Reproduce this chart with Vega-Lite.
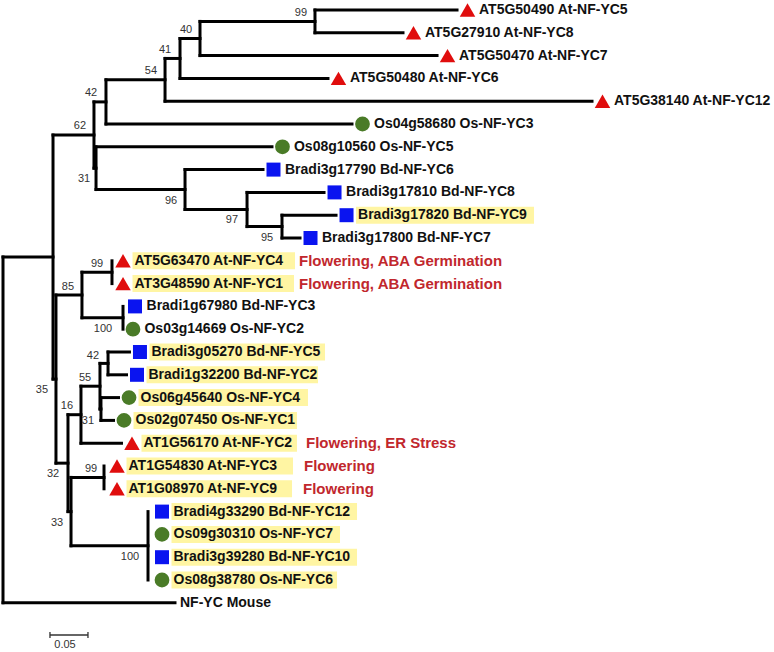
{
  "$schema": "https://vega.github.io/schema/vega-lite/v6.json",
  "width": 774,
  "height": 652,
  "autosize": {"type": "none"},
  "padding": 0,
  "background": "white",
  "config": {"view": {"stroke": null}},
  "datasets": {
    "leaves": [
      {"x": 0.5974, "y": 1, "label": "AT5G50490 At-NF-YC5", "sp": "At"},
      {"x": 0.5263, "y": 2, "label": "AT5G27910 At-NF-YC8", "sp": "At"},
      {"x": 0.5711, "y": 3, "label": "AT5G50470 At-NF-YC7", "sp": "At"},
      {"x": 0.4276, "y": 4, "label": "AT5G50480 At-NF-YC6", "sp": "At"},
      {"x": 0.7750, "y": 5, "label": "AT5G38140 At-NF-YC12", "sp": "At"},
      {"x": 0.4592, "y": 6, "label": "Os04g58680 Os-NF-YC3", "sp": "Os"},
      {"x": 0.3539, "y": 7, "label": "Os08g10560 Os-NF-YC5", "sp": "Os"},
      {"x": 0.3421, "y": 8, "label": "Bradi3g17790 Bd-NF-YC6", "sp": "Bd"},
      {"x": 0.4224, "y": 9, "label": "Bradi3g17810 Bd-NF-YC8", "sp": "Bd"},
      {"x": 0.4382, "y": 10, "label": "Bradi3g17820 Bd-NF-YC9", "sp": "Bd", "hx": 0.6987},
      {"x": 0.3908, "y": 11, "label": "Bradi3g17800 Bd-NF-YC7", "sp": "Bd"},
      {"x": 0.1441, "y": 12, "label": "AT5G63470 At-NF-YC4", "sp": "At", "hx": 0.3842},
      {"x": 0.1441, "y": 13, "label": "AT3G48590 At-NF-YC1", "sp": "At", "hx": 0.3829},
      {"x": 0.1599, "y": 14, "label": "Bradi1g67980 Bd-NF-YC3", "sp": "Bd"},
      {"x": 0.1572, "y": 15, "label": "Os03g14669 Os-NF-YC2", "sp": "Os"},
      {"x": 0.1664, "y": 16, "label": "Bradi3g05270 Bd-NF-YC5", "sp": "Bd", "hx": 0.4237},
      {"x": 0.1625, "y": 17, "label": "Bradi1g32200 Bd-NF-YC2", "sp": "Bd", "hx": 0.4145},
      {"x": 0.1520, "y": 18, "label": "Os06g45640 Os-NF-YC4", "sp": "Os", "hx": 0.4013},
      {"x": 0.1454, "y": 19, "label": "Os02g07450 Os-NF-YC1", "sp": "Os", "hx": 0.3868},
      {"x": 0.1559, "y": 20, "label": "AT1G56170 At-NF-YC2", "sp": "At", "hx": 0.3868},
      {"x": 0.1362, "y": 21, "label": "AT1G54830 At-NF-YC3", "sp": "At", "hx": 0.3816},
      {"x": 0.1362, "y": 22, "label": "AT1G08970 At-NF-YC9", "sp": "At", "hx": 0.3803},
      {"x": 0.1954, "y": 23, "label": "Bradi4g33290 Bd-NF-YC12", "sp": "Bd", "hx": 0.4658},
      {"x": 0.1954, "y": 24, "label": "Os09g30310 Os-NF-YC7", "sp": "Os", "hx": 0.4434},
      {"x": 0.1954, "y": 25, "label": "Bradi3g39280 Bd-NF-YC10", "sp": "Bd", "hx": 0.4658},
      {"x": 0.1954, "y": 26, "label": "Os08g38780 Os-NF-YC6", "sp": "Os", "hx": 0.4395},
      {"x": 0.2263, "y": 27, "label": "NF-YC Mouse", "sp": "Mm"}
    ],
    "notes": [
      {"x": 0.3895, "y": 12, "text": "Flowering, ABA Germination"},
      {"x": 0.3895, "y": 13, "text": "Flowering, ABA Germination"},
      {"x": 0.3987, "y": 20, "text": "Flowering, ER Stress"},
      {"x": 0.3961, "y": 21, "text": "Flowering"},
      {"x": 0.3947, "y": 22, "text": "Flowering"}
    ],
    "segs": [
      {"x": 0, "x2": 0, "y": 11.836, "y2": 27},
      {"x": 0.0658, "x2": 0.0658, "y": 6.484, "y2": 17.1875},
      {"x": 0.1197, "x2": 0.1197, "y": 5.031, "y2": 7.9375},
      {"x": 0.1224, "x2": 0.1224, "y": 7, "y2": 8.875},
      {"x": 0.1355, "x2": 0.1355, "y": 4.0625, "y2": 6},
      {"x": 0.2132, "x2": 0.2132, "y": 3.125, "y2": 5},
      {"x": 0.2329, "x2": 0.2329, "y": 2.25, "y2": 4},
      {"x": 0.2592, "x2": 0.2592, "y": 1.5, "y2": 3},
      {"x": 0.4105, "x2": 0.4105, "y": 1, "y2": 2},
      {"x": 0.2395, "x2": 0.2395, "y": 8, "y2": 9.75},
      {"x": 0.3211, "x2": 0.3211, "y": 9, "y2": 10.5},
      {"x": 0.3671, "x2": 0.3671, "y": 10, "y2": 11},
      {"x": 0.0697, "x2": 0.0697, "y": 13.5, "y2": 20.875},
      {"x": 0.1039, "x2": 0.1039, "y": 12.5, "y2": 14.5},
      {"x": 0.1434, "x2": 0.1434, "y": 12, "y2": 13},
      {"x": 0.1579, "x2": 0.1579, "y": 14, "y2": 15},
      {"x": 0.0855, "x2": 0.0855, "y": 18.75, "y2": 23},
      {"x": 0.1026, "x2": 0.1026, "y": 17.5, "y2": 20},
      {"x": 0.1276, "x2": 0.1276, "y": 16.5, "y2": 18.5},
      {"x": 0.1382, "x2": 0.1382, "y": 16, "y2": 17},
      {"x": 0.1289, "x2": 0.1289, "y": 18, "y2": 19},
      {"x": 0.0895, "x2": 0.0895, "y": 21.5, "y2": 24.5},
      {"x": 0.1329, "x2": 0.1329, "y": 21, "y2": 22},
      {"x": 0.1908, "x2": 0.1908, "y": 23, "y2": 26},
      {"x": 0, "x2": 0.0658, "y": 11.836, "y2": 11.836},
      {"x": 0, "x2": 0.2263, "y": 27, "y2": 27},
      {"x": 0.0658, "x2": 0.1197, "y": 6.484, "y2": 6.484},
      {"x": 0.0658, "x2": 0.0697, "y": 17.1875, "y2": 17.1875},
      {"x": 0.1197, "x2": 0.1355, "y": 5.031, "y2": 5.031},
      {"x": 0.1197, "x2": 0.1224, "y": 7.9375, "y2": 7.9375},
      {"x": 0.1355, "x2": 0.2132, "y": 4.0625, "y2": 4.0625},
      {"x": 0.1355, "x2": 0.4592, "y": 6, "y2": 6},
      {"x": 0.2132, "x2": 0.2329, "y": 3.125, "y2": 3.125},
      {"x": 0.2132, "x2": 0.7750, "y": 5, "y2": 5},
      {"x": 0.2329, "x2": 0.2592, "y": 2.25, "y2": 2.25},
      {"x": 0.2329, "x2": 0.4276, "y": 4, "y2": 4},
      {"x": 0.2592, "x2": 0.4105, "y": 1.5, "y2": 1.5},
      {"x": 0.2592, "x2": 0.5711, "y": 3, "y2": 3},
      {"x": 0.4105, "x2": 0.5974, "y": 1, "y2": 1},
      {"x": 0.4105, "x2": 0.5263, "y": 2, "y2": 2},
      {"x": 0.1224, "x2": 0.3539, "y": 7, "y2": 7},
      {"x": 0.1224, "x2": 0.2395, "y": 8.875, "y2": 8.875},
      {"x": 0.2395, "x2": 0.3421, "y": 8, "y2": 8},
      {"x": 0.2395, "x2": 0.3211, "y": 9.75, "y2": 9.75},
      {"x": 0.3211, "x2": 0.4224, "y": 9, "y2": 9},
      {"x": 0.3211, "x2": 0.3671, "y": 10.5, "y2": 10.5},
      {"x": 0.3671, "x2": 0.4382, "y": 10, "y2": 10},
      {"x": 0.3671, "x2": 0.3908, "y": 11, "y2": 11},
      {"x": 0.0697, "x2": 0.1039, "y": 13.5, "y2": 13.5},
      {"x": 0.0697, "x2": 0.0855, "y": 20.875, "y2": 20.875},
      {"x": 0.1039, "x2": 0.1434, "y": 12.5, "y2": 12.5},
      {"x": 0.1039, "x2": 0.1579, "y": 14.5, "y2": 14.5},
      {"x": 0.0855, "x2": 0.1026, "y": 18.75, "y2": 18.75},
      {"x": 0.0855, "x2": 0.0895, "y": 23, "y2": 23},
      {"x": 0.1026, "x2": 0.1276, "y": 17.5, "y2": 17.5},
      {"x": 0.1026, "x2": 0.1559, "y": 20, "y2": 20},
      {"x": 0.1276, "x2": 0.1382, "y": 16.5, "y2": 16.5},
      {"x": 0.1276, "x2": 0.1289, "y": 18.5, "y2": 18.5},
      {"x": 0.1382, "x2": 0.1664, "y": 16, "y2": 16},
      {"x": 0.1382, "x2": 0.1625, "y": 17, "y2": 17},
      {"x": 0.1289, "x2": 0.1520, "y": 18, "y2": 18},
      {"x": 0.1289, "x2": 0.1454, "y": 19, "y2": 19},
      {"x": 0.0895, "x2": 0.1329, "y": 21.5, "y2": 21.5},
      {"x": 0.0895, "x2": 0.1908, "y": 24.5, "y2": 24.5}
    ],
    "boot": [
      {"x": 0.3921, "y": 1.132, "text": "99"},
      {"x": 0.2408, "y": 1.877, "text": "40"},
      {"x": 0.2132, "y": 2.754, "text": "41"},
      {"x": 0.1947, "y": 3.675, "text": "54"},
      {"x": 0.1158, "y": 4.640, "text": "42"},
      {"x": 0.1013, "y": 6.088, "text": "62"},
      {"x": 0.1066, "y": 8.412, "text": "31"},
      {"x": 0.2211, "y": 9.377, "text": "96"},
      {"x": 0.3013, "y": 10.211, "text": "97"},
      {"x": 0.3474, "y": 11.0, "text": "95"},
      {"x": 0.1237, "y": 12.140, "text": "99"},
      {"x": 0.0855, "y": 13.149, "text": "85"},
      {"x": 0.1316, "y": 14.991, "text": "100"},
      {"x": 0.1184, "y": 16.175, "text": "42"},
      {"x": 0.1079, "y": 17.140, "text": "55"},
      {"x": 0.0513, "y": 17.667, "text": "35"},
      {"x": 0.0842, "y": 18.368, "text": "16"},
      {"x": 0.1118, "y": 19.026, "text": "31"},
      {"x": 0.0658, "y": 21.351, "text": "32"},
      {"x": 0.1158, "y": 21.132, "text": "99"},
      {"x": 0.0711, "y": 23.5, "text": "33"},
      {"x": 0.1671, "y": 24.991, "text": "100"}
    ],
    "bar": [
      {"x": 0.0618, "x2": 0.1118, "y": 28.412, "y2": 28.412},
      {"x": 0.0618, "x2": 0.0618, "y": 28.28, "y2": 28.54},
      {"x": 0.1118, "x2": 0.1118, "y": 28.28, "y2": 28.54}
    ],
    "barlabel": [
      {"x": 0.0816, "y": 28.85, "text": "0.05"}
    ]
  },
  "encoding": {
    "x": {"field": "x", "type": "quantitative", "scale": {"domain": [-0.00395, 1.01447], "nice": false, "zero": false}, "axis": null},
    "y": {"field": "y", "type": "quantitative", "scale": {"domain": [0.5614, 29.158], "nice": false, "zero": false, "reverse": true}, "axis": null}
  },
  "layer": [
    {
      "data": {"name": "leaves"},
      "transform": [{"filter": "isValid(datum.hx)"}],
      "mark": {"type": "rect", "color": "#fff5a3", "xOffset": 20, "yOffset": -8.5, "y2Offset": 8.5},
      "encoding": {
        "x2": {"field": "hx"},
        "y2": {"field": "y"}
      }
    },
    {
      "data": {"name": "segs"},
      "mark": {"type": "rule", "color": "black", "strokeWidth": 3, "strokeCap": "square"},
      "encoding": {
        "x2": {"field": "x2"},
        "y2": {"field": "y2"}
      }
    },
    {
      "data": {"name": "bar"},
      "mark": {"type": "rule", "color": "#333333", "strokeWidth": 1.3},
      "encoding": {
        "x2": {"field": "x2"},
        "y2": {"field": "y2"}
      }
    },
    {
      "data": {"name": "barlabel"},
      "mark": {"type": "text", "font": "Liberation Sans", "fontSize": 11, "color": "#333333", "align": "center", "baseline": "middle"},
      "encoding": {"text": {"field": "text"}}
    },
    {
      "data": {"name": "leaves"},
      "transform": [{"filter": "datum.sp !== 'Mm'"}],
      "mark": {"type": "point", "filled": true, "opacity": 1, "strokeWidth": 0, "xOffset": 10.5},
      "encoding": {
        "shape": {"field": "sp", "type": "nominal", "scale": {"domain": ["At", "Os", "Bd"], "range": ["triangle-up", "circle", "square"]}, "legend": null},
        "color": {"field": "sp", "type": "nominal", "scale": {"domain": ["At", "Os", "Bd"], "range": ["#e00d0d", "#4a7b27", "#0a14f0"]}, "legend": null},
        "size": {"field": "sp", "type": "nominal", "scale": {"domain": ["At", "Os", "Bd"], "range": [240, 196, 160]}, "legend": null}
      }
    },
    {
      "data": {"name": "leaves"},
      "transform": [{"filter": "datum.sp !== 'Mm'"}],
      "mark": {"type": "text", "font": "Liberation Sans", "fontWeight": "bold", "fontSize": 14, "color": "#111111", "align": "left", "baseline": "middle", "dx": 22},
      "encoding": {"text": {"field": "label"}}
    },
    {
      "data": {"name": "leaves"},
      "transform": [{"filter": "datum.sp === 'Mm'"}],
      "mark": {"type": "text", "font": "Liberation Sans", "fontWeight": "bold", "fontSize": 14, "color": "#111111", "align": "left", "baseline": "middle", "dx": 5},
      "encoding": {"text": {"field": "label"}}
    },
    {
      "data": {"name": "notes"},
      "mark": {"type": "text", "font": "Liberation Sans", "fontWeight": "bold", "fontSize": 15, "color": "#c1272d", "align": "left", "baseline": "middle"},
      "encoding": {"text": {"field": "text"}}
    },
    {
      "data": {"name": "boot"},
      "mark": {"type": "text", "font": "Liberation Sans", "fontSize": 11, "color": "#333333", "align": "center", "baseline": "middle"},
      "encoding": {"text": {"field": "text"}}
    }
  ]
}
